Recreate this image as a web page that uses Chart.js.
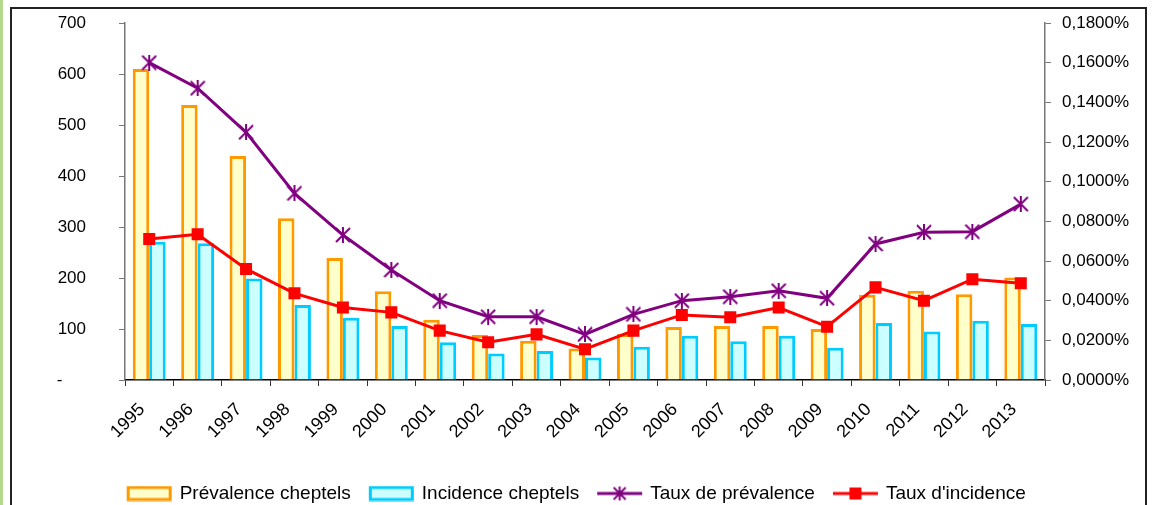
<!DOCTYPE html>
<html>
<head>
<meta charset="utf-8">
<script src="https://cdn.jsdelivr.net/npm/chart.js@4/dist/chart.umd.min.js"></script>
<style>
  html, body { margin: 0; padding: 0; background: #fff; width: 1154px; height: 505px; overflow: hidden; }
  #wrap { position: relative; width: 1154px; height: 505px; }
  #c { position: absolute; left: 0; top: 0; }
  #strip { position: absolute; left: 0; top: 0; width: 3px; height: 505px; background: #b5d98c; }
  #frame { position: absolute; left: 10px; top: 7px; width: 1133px; height: 520px; border: 2px solid #222; pointer-events: none; }
</style>
</head>
<body>
<div id="wrap">
  <canvas id="c" width="1154" height="505"></canvas>
  <div id="strip"></div>
  <div id="frame"></div>
</div>
<script>
// ---- Data ----
const categories = ['1995','1996','1997','1998','1999','2000','2001','2002','2003','2004','2005','2006','2007','2008','2009','2010','2011','2012','2013'];
const prevalenceCheptels = [610, 539, 439, 317, 239, 174, 118, 88, 77, 62, 90, 104, 106, 106, 100, 167, 175, 168, 201];
const incidenceCheptels  = [271, 268, 199, 147, 122, 106, 74, 52, 57, 44, 65, 87, 76, 87, 63, 112, 95, 116, 110];
// rates in percent
const tauxPrevalence = [0.1600, 0.1471, 0.1249, 0.0941, 0.0731, 0.0555, 0.0400, 0.0319, 0.0319, 0.0230, 0.0331, 0.0400, 0.0420, 0.0450, 0.0412, 0.0686, 0.0745, 0.0748, 0.0887];
const tauxIncidence  = [0.0711, 0.0735, 0.0560, 0.0437, 0.0366, 0.0341, 0.0249, 0.0190, 0.0230, 0.0155, 0.0249, 0.0328, 0.0316, 0.0365, 0.0269, 0.0467, 0.0400, 0.0508, 0.0488];
const seriesLabels = ['Prévalence cheptels', 'Incidence cheptels', 'Taux de prévalence', "Taux d'incidence"];
const leftTickLabels  = ['-     ', '100', '200', '300', '400', '500', '600', '700'];
const rightTickLabels = ['0,0000%', '0,0200%', '0,0400%', '0,0600%', '0,0800%', '0,1000%', '0,1200%', '0,1400%', '0,1600%', '0,1800%'];

// ---- Styles ----
const ORANGE = '#ff9900', YELLOW = '#ffffcc', CYAN = '#00ccff', LCYAN = '#ccffff', PURPLE = '#800080', RED = '#ff0000';

function starImage(size, lw) {
  const c = document.createElement('canvas');
  c.width = size; c.height = size;
  const g = c.getContext('2d');
  g.strokeStyle = PURPLE; g.lineWidth = lw;
  const m = 1;
  g.beginPath();
  g.moveTo(m, m); g.lineTo(size - m, size - m);
  g.moveTo(size - m, m); g.lineTo(m, size - m);
  g.moveTo(size / 2, 0); g.lineTo(size / 2, size);
  g.stroke();
  return c;
}
const starPoint = starImage(16, 2);

const LW = 47, LH = 16, PSW = 42;
function legendBar(fill, stroke) {
  const c = document.createElement('canvas');
  c.width = LW; c.height = LH;
  const g = c.getContext('2d');
  g.fillStyle = fill; g.fillRect(2.5, 2, LW - 5, LH - 4);
  g.strokeStyle = stroke; g.lineWidth = 3;
  g.strokeRect(2.5, 2, LW - 5, LH - 4);
  return c;
}
function legendLine(color, marker) {
  const c = document.createElement('canvas');
  c.width = LW; c.height = LH;
  const g = c.getContext('2d');
  g.strokeStyle = color; g.lineWidth = 3;
  g.beginPath(); g.moveTo(1, LH / 2); g.lineTo(LW - 1, LH / 2); g.stroke();
  const cx = LW / 2;
  if (marker === 'star') {
    g.lineWidth = 2;
    const s = 6;
    g.beginPath();
    g.moveTo(cx - s, LH/2 - s); g.lineTo(cx + s, LH/2 + s);
    g.moveTo(cx + s, LH/2 - s); g.lineTo(cx - s, LH/2 + s);
    g.moveTo(cx, LH/2 - s - 1); g.lineTo(cx, LH/2 + s + 1);
    g.stroke();
  } else {
    g.fillStyle = color;
    g.fillRect(cx - 6, LH/2 - 6, 12, 12);
  }
  return c;
}
const legendImages = [legendBar(YELLOW, ORANGE), legendBar(LCYAN, CYAN), legendLine(PURPLE, 'star'), legendLine(RED, 'rect')];

Chart.defaults.font.family = "'Liberation Sans', Arial, sans-serif";
Chart.defaults.color = '#000';

const LEG_PAD = 19.5;

new Chart(document.getElementById('c'), {
  data: {
    labels: categories,
    datasets: [
      { type: 'bar', label: seriesLabels[0], data: prevalenceCheptels, yAxisID: 'y', order: 2,
        backgroundColor: YELLOW, borderColor: ORANGE, borderWidth: 3, categoryPercentage: 0.68, barPercentage: 1 },
      { type: 'bar', label: seriesLabels[1], data: incidenceCheptels, yAxisID: 'y', order: 2,
        backgroundColor: LCYAN, borderColor: CYAN, borderWidth: 3, categoryPercentage: 0.68, barPercentage: 1 },
      { type: 'line', label: seriesLabels[2], data: tauxPrevalence, yAxisID: 'y1', order: 1,
        borderColor: PURPLE, borderWidth: 3, pointStyle: starPoint, pointRadius: 8, tension: 0, fill: false },
      { type: 'line', label: seriesLabels[3], data: tauxIncidence, yAxisID: 'y1', order: 0,
        borderColor: RED, borderWidth: 3, backgroundColor: RED, pointStyle: 'rect', pointRadius: 8.5,
        pointBackgroundColor: RED, pointBorderColor: RED, pointBorderWidth: 0, tension: 0, fill: false }
    ]
  },
  options: {
    responsive: false,
    animation: false,
    devicePixelRatio: 1,
    layout: { padding: { top: 23, left: 0, right: 0, bottom: -8 } },
    plugins: {
      tooltip: { enabled: false },
      legend: {
        position: 'bottom',
        labels: {
          usePointStyle: true,
          pointStyleWidth: PSW,
          padding: LEG_PAD,
          font: { size: 19 },
          color: '#000',
          generateLabels: (chart) => chart.data.datasets.map((ds, i) => ({
            text: ds.label, pointStyle: legendImages[i], fillStyle: 'rgba(0,0,0,0)',
            strokeStyle: 'rgba(0,0,0,0)', lineWidth: 0, hidden: false, datasetIndex: i
          }))
        }
      }
    },
    scales: {
      x: {
        offset: true,
        grid: { display: true, offset: true, drawOnChartArea: false, drawTicks: true, tickLength: 6, color: '#333' },
        border: { display: true, color: '#000', width: 1.5 },
        ticks: { minRotation: 45, maxRotation: 45, autoSkip: false, padding: 6, font: { size: 18 }, color: '#000',
                 callback: (v, i) => categories[i] + '  ' },
        afterFit: (s) => { s.height = 513 - (19 + LEG_PAD + 10) - 380; }
      },
      y: {
        position: 'left', min: 0, max: 700,
        ticks: { stepSize: 100, padding: 33, font: { size: 17 }, color: '#000',
                 callback: (v, i) => leftTickLabels[i] },
        grid: { drawOnChartArea: false, drawTicks: true, tickLength: 6, color: '#777' },
        border: { display: true, color: '#777', width: 1.5 },
        afterFit: (s) => { s.width = 125; s.paddingTop = 0; s.paddingBottom = 0; }
      },
      y1: {
        position: 'right', min: 0, max: 0.18,
        ticks: { stepSize: 0.02, padding: 11, font: { size: 17 }, color: '#000',
                 callback: (v, i) => rightTickLabels[i] },
        grid: { drawOnChartArea: false, drawTicks: true, tickLength: 6, color: '#777' },
        border: { display: true, color: '#777', width: 1.5 },
        afterFit: (s) => { s.width = 109; s.paddingTop = 0; s.paddingBottom = 0; }
      }
    }
  }
});
</script>
</body>
</html>
